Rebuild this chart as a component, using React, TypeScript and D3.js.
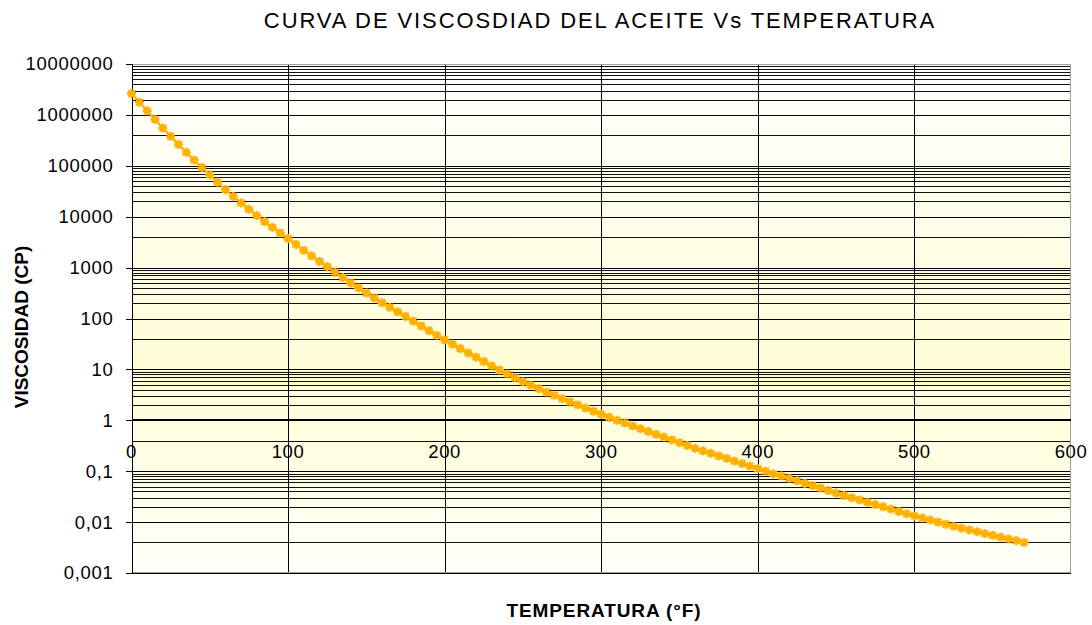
import React from "react";
import * as d3 from "d3";

const temperatures: number[] = d3.range(0, 571, 5);
const viscosity: number[] = [
  2630000, 1780000, 1200000, 813000, 550000, 380000, 263000, 184000, 129000, 92300,
  66100, 47300, 33900, 25100, 18600, 14000, 10500, 8040, 6170, 4790,
  3720, 2850, 2190, 1700, 1320, 1040, 813, 638, 501, 398,
  316, 254, 204, 166, 135, 110, 89.1, 71.6, 57.5, 46.8,
  38.0, 31.3, 25.7, 21.1, 17.4, 14.3, 11.7, 9.77, 8.13, 6.84,
  5.75, 4.9, 4.17, 3.59, 3.09, 2.66, 2.29, 2.0, 1.74, 1.51,
  1.32, 1.15, 1.0, 0.881, 0.776, 0.684, 0.603, 0.531, 0.468, 0.412,
  0.363, 0.32, 0.282, 0.251, 0.224, 0.2, 0.178, 0.158, 0.141, 0.126,
  0.112, 0.1, 0.0891, 0.0804, 0.0724, 0.0646, 0.0575, 0.0519, 0.0468, 0.0417,
  0.0372, 0.0335, 0.0302, 0.0272, 0.0245, 0.0221, 0.02, 0.018, 0.0162, 0.0146,
  0.0132, 0.012, 0.011, 0.01, 0.00912, 0.00832, 0.00759, 0.007, 0.00646, 0.00596,
  0.0055, 0.00507, 0.00468, 0.00432, 0.00398,
];

const xTicks: number[] = [0, 100, 200, 300, 400, 500, 600];
const yTicks: number[] = [1e7, 1e6, 1e5, 1e4, 1e3, 100, 10, 1, 0.1, 0.01, 0.001];
const yTickLabels: string[] = [
  "10000000", "1000000", "100000", "10000", "1000", "100", "10", "1", "0,1", "0,01", "0,001",
];
// minor gridline multipliers per decade (decade base -> multipliers), as seen in the picture
const denseDecades: number[] = [1e6, 1e4, 100, 1, 0.01];
const sparseDecades: number[] = [1e5, 1e3, 10, 0.1, 0.001];
const denseMultipliers: number[] = [2, 3, 4, 5, 6, 7, 8, 9];
const sparseMultipliers: number[] = [4];

const TITLE = "CURVA DE VISCOSDIAD DEL ACEITE Vs TEMPERATURA";
const X_TITLE = "TEMPERATURA (°F)";
const Y_TITLE = "VISCOSIDAD (CP)";

export default function App() {
  const W = 1092;
  const H = 625;
  const left = 131.5;
  const right = 1071;
  const top = 64;
  const bottom = 573;

  const x = d3.scaleLinear().domain([0, 600]).range([left, right]);
  const y = d3.scaleLog().domain([0.001, 1e7]).range([bottom, top]);

  const minor: number[] = [];
  denseDecades.forEach((b) => denseMultipliers.forEach((m) => minor.push(b * m)));
  sparseDecades.forEach((b) => sparseMultipliers.forEach((m) => minor.push(b * m)));

  const pts = temperatures.map((t, i) => [x(t), y(viscosity[i])] as [number, number]);
  const line = d3.line<[number, number]>().curve(d3.curveMonotoneX)(pts) || "";

  const font = "'Liberation Sans', Arial, sans-serif";
  const snap = (v: number) => Math.round(v) + 0.5;
  const star = "M-4.5,0H4.5M0,-4.5V4.5M-3.3,-3.3L3.3,3.3M-3.3,3.3L3.3,-3.3";

  return (
    <svg
      width={W}
      height={H}
      style={{ position: "fixed", left: 0, top: 0, background: "#fff" }}
      fontFamily={font}
    >
      <defs>
        <linearGradient id="bg" x1="0" y1="0" x2="0" y2="1">
          <stop offset="0" stopColor="#FFFFFF" />
          <stop offset="0.62" stopColor="#FFFDD4" />
          <stop offset="1" stopColor="#FFFFF9" />
        </linearGradient>
      </defs>
      <rect x={left} y={top} width={right - left} height={bottom - top} fill="url(#bg)" />

      <g shapeRendering="crispEdges">
        {minor.map((v, i) => (
          <line key={"m" + i} x1={left} x2={right} y1={snap(y(v))} y2={snap(y(v))} stroke="#111" strokeWidth={1} />
        ))}
        {yTicks.map((v, i) =>
          v === 1 ? null : (
            <line key={"M" + i} x1={left} x2={right} y1={snap(y(v))} y2={snap(y(v))} stroke="#000" strokeWidth={1} />
          )
        )}
        {xTicks.slice(1, -1).map((t, i) => (
          <line key={"v" + i} x1={snap(x(t))} x2={snap(x(t))} y1={top} y2={bottom} stroke="#000" strokeWidth={1} />
        ))}
        <line x1={left} x2={right} y1={top + 0.5} y2={top + 0.5} stroke="#a0a0a0" />
        <line x1={right - 0.5} x2={right - 0.5} y1={top} y2={bottom} stroke="#a0a0a0" />
        <line x1={left} x2={right} y1={bottom - 0.5} y2={bottom - 0.5} stroke="#a0a0a0" />
        <line x1={snap(left)} x2={snap(left)} y1={top} y2={bottom} stroke="#000" />
        {yTicks.map((v, i) => (
          <line key={"t" + i} x1={left - 6} x2={left} y1={snap(y(v))} y2={snap(y(v))} stroke="#000" />
        ))}
        <line x1={left} x2={right} y1={Math.round(y(1))} y2={Math.round(y(1))} stroke="#000" strokeWidth={2} />
      </g>

      {yTicks.map((v, i) => (
        <text
          key={"yl" + i}
          x={left - 18}
          y={y(v)}
          dy="0.35em"
          textAnchor="end"
          fontSize={18.5}
          letterSpacing={0.7}
          fill="#000"
        >
          {yTickLabels[i]}
        </text>
      ))}
      {xTicks.map((t, i) => (
        <text key={"xl" + i} x={x(t)} y={y(1) + 38} textAnchor="middle" fontSize={18.5} letterSpacing={0.6} fill="#000">
          {t}
        </text>
      ))}

      <path d={line} fill="none" stroke="#FFB000" strokeWidth={2.2} />
      {pts.map((p, i) => (
        <path key={"p" + i} d={star} transform={`translate(${p[0]},${p[1]})`} stroke="#FFB000" strokeWidth={2.3} fill="none" />
      ))}

      <text x={600} y={28} textAnchor="middle" fontSize={22} letterSpacing={1.9} fill="#000">
        {TITLE}
      </text>
      <text x={604} y={617} textAnchor="middle" fontSize={19} fontWeight="bold" letterSpacing={0.9} fill="#000">
        {X_TITLE}
      </text>
      <text transform={`translate(28,${327}) rotate(-90)`} textAnchor="middle" fontSize={19} fontWeight="bold" fill="#000">
        {Y_TITLE}
      </text>
    </svg>
  );
}
